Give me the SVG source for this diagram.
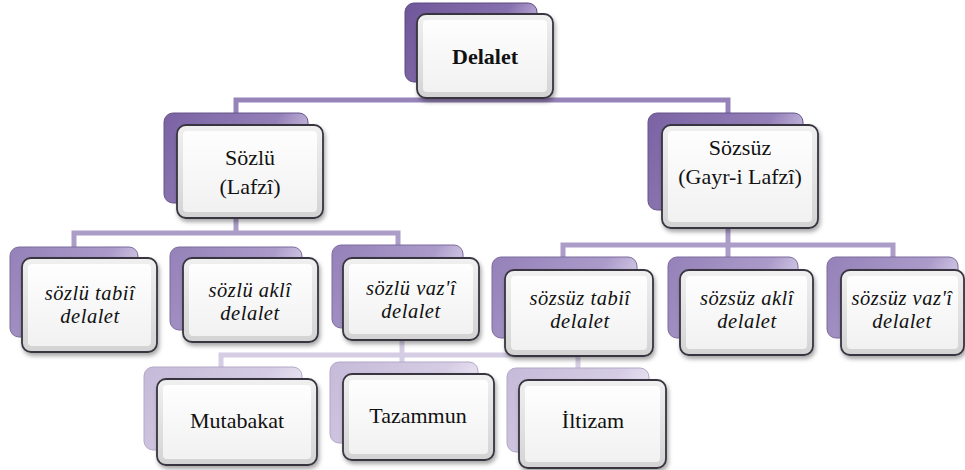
<svg xmlns="http://www.w3.org/2000/svg" width="965" height="470" viewBox="0 0 965 470">
<style>
.t{font-family:"Liberation Serif","Times New Roman",serif;font-size:22px;fill:#111;text-anchor:middle}
.i{font-style:italic;font-size:20.5px;letter-spacing:0.5px}
.b{font-weight:bold}
.front{fill:url(#edge);stroke:#38343f;stroke-width:1.8}
.face{fill:url(#face)}
.back0{fill:url(#bk0);stroke:#5d4b80;stroke-width:1}
.back1{fill:url(#bk1);stroke:#66548a;stroke-width:1}
.back2{fill:url(#bk2);stroke:#7d6c9d;stroke-width:1}
.back3{fill:url(#bk3);stroke:#b3a8c8;stroke-width:1}
.c1{fill:none;stroke:#9683b9;stroke-width:5}
.c2{fill:none;stroke:#ab9cc8;stroke-width:5}
.c3{fill:none;stroke:#d5cde3;stroke-width:5}
</style>
<defs>
<linearGradient id="edge" x1="0" y1="0" x2="0" y2="1">
<stop offset="0" stop-color="#f0f0f0"/><stop offset="1" stop-color="#d3d3d3"/>
</linearGradient>
<linearGradient id="face" x1="0" y1="0" x2="0" y2="1">
<stop offset="0" stop-color="#fefefe"/><stop offset="1" stop-color="#f1f1f1"/>
</linearGradient>
<linearGradient id="bk0" x1="0" y1="0" x2="1" y2="0.4">
<stop offset="0" stop-color="#6f5699"/><stop offset="0.7" stop-color="#8770ae"/><stop offset="1" stop-color="#c9bce0"/>
</linearGradient>
<linearGradient id="bk1" x1="0" y1="0" x2="1" y2="0.4">
<stop offset="0" stop-color="#7a62a3"/><stop offset="0.7" stop-color="#9480b8"/><stop offset="1" stop-color="#d3c8e6"/>
</linearGradient>
<linearGradient id="bk2" x1="0" y1="0" x2="1" y2="0.4">
<stop offset="0" stop-color="#9481b8"/><stop offset="0.7" stop-color="#ab9bca"/><stop offset="1" stop-color="#ddd4ec"/>
</linearGradient>
<linearGradient id="bk3" x1="0" y1="0" x2="1" y2="0.4">
<stop offset="0" stop-color="#c5bad8"/><stop offset="0.7" stop-color="#d5cce4"/><stop offset="1" stop-color="#eee9f5"/>
</linearGradient>
<filter id="sh" x="-10%" y="-10%" width="125%" height="130%">
<feDropShadow dx="1.5" dy="3" stdDeviation="2" flood-color="#000" flood-opacity="0.35"/>
</filter>
</defs>

<g id="connectors">
<path class="c1" d="M471 82V100M236 113V100H728V113"/>
<path class="c2" d="M236 203V233M74 247V233H398V245"/>
<path class="c2" d="M728 210V245M563 257V245H893V257M728 245V257"/>
<path class="c3" d="M402 340V355M221 367V355H578V368M402 355V362"/>
</g>

<g id="n-delalet">
<rect class="back0" x="405" y="3" width="132" height="79" rx="9"/>
<rect class="front" x="417" y="14" width="136" height="84" rx="9" filter="url(#sh)"/>
<rect class="face" x="423" y="20" width="124" height="72" rx="4"/>
<text class="t b" x="485" y="64">Delalet</text>
</g>

<g id="n-sozlu">
<rect class="back1" x="164" y="113" width="144" height="90" rx="9"/>
<rect class="front" x="177" y="125" width="146" height="93" rx="9" filter="url(#sh)"/>
<rect class="face" x="183" y="131" width="134" height="81" rx="4"/>
<text class="t" x="250" y="165">Sözlü</text>
<text class="t" x="250" y="194">(Lafzî)</text>
</g>

<g id="n-sozsuz">
<rect class="back1" x="648" y="113" width="155" height="97" rx="9"/>
<rect class="front" x="662" y="125" width="156" height="103" rx="9" filter="url(#sh)"/>
<rect class="face" x="668" y="131" width="144" height="91" rx="4"/>
<text class="t" x="740" y="155">Sözsüz</text>
<text class="t" x="740" y="184">(Gayr-i Lafzî)</text>
</g>

<g id="n-sozlu-tabii">
<rect class="back2" x="10" y="247" width="128" height="90" rx="9"/>
<rect class="front" x="22" y="258" width="135" height="94" rx="9" filter="url(#sh)"/>
<rect class="face" x="28" y="264" width="123" height="82" rx="4"/>
<text class="t i" x="90" y="300">sözlü tabiî</text>
<text class="t i" x="90" y="323">delalet</text>
</g>

<g id="n-sozlu-akli">
<rect class="back2" x="170" y="247" width="132" height="83" rx="9"/>
<rect class="front" x="183" y="258" width="135" height="84" rx="9" filter="url(#sh)"/>
<rect class="face" x="189" y="264" width="123" height="72" rx="4"/>
<text class="t i" x="250" y="297">sözlü aklî</text>
<text class="t i" x="250" y="320">delalet</text>
</g>

<g id="n-sozlu-vazi">
<rect class="back2" x="332" y="245" width="131" height="83" rx="9"/>
<rect class="front" x="343" y="258" width="136" height="82" rx="9" filter="url(#sh)"/>
<rect class="face" x="349" y="264" width="124" height="70" rx="4"/>
<text class="t i" x="411" y="295">sözlü vaz'î</text>
<text class="t i" x="411" y="318">delalet</text>
</g>

<g id="n-sozsuz-tabii">
<rect class="back2" x="492" y="257" width="145" height="81" rx="9"/>
<rect class="front" x="505" y="270" width="148" height="86" rx="9" filter="url(#sh)"/>
<rect class="face" x="511" y="276" width="136" height="74" rx="4"/>
<text class="t i" x="580" y="305">sözsüz tabiî</text>
<text class="t i" x="580" y="328">delalet</text>
</g>

<g id="n-sozsuz-akli">
<rect class="back2" x="668" y="257" width="130" height="81" rx="9"/>
<rect class="front" x="680" y="270" width="133" height="85" rx="9" filter="url(#sh)"/>
<rect class="face" x="686" y="276" width="121" height="73" rx="4"/>
<text class="t i" x="747" y="305">sözsüz aklî</text>
<text class="t i" x="747" y="328">delalet</text>
</g>

<g id="n-sozsuz-vazi">
<rect class="back2" x="827" y="257" width="131" height="81" rx="9"/>
<rect class="front" x="841" y="270" width="123" height="85" rx="9" filter="url(#sh)"/>
<rect class="face" x="847" y="276" width="111" height="73" rx="4"/>
<text class="t i" x="902" y="305">sözsüz vaz'î</text>
<text class="t i" x="902" y="328">delalet</text>
</g>

<g id="n-mutabakat">
<rect class="back3" x="144" y="367" width="158" height="83" rx="9"/>
<rect class="front" x="157" y="379" width="160" height="86" rx="9" filter="url(#sh)"/>
<rect class="face" x="163" y="385" width="148" height="74" rx="4"/>
<text class="t" x="237" y="428">Mutabakat</text>
</g>

<g id="n-tazammun">
<rect class="back3" x="330" y="362" width="148" height="81" rx="9"/>
<rect class="front" x="343" y="374" width="151" height="86" rx="9" filter="url(#sh)"/>
<rect class="face" x="349" y="380" width="139" height="74" rx="4"/>
<text class="t" x="418" y="423">Tazammun</text>
</g>

<g id="n-iltizam">
<rect class="back3" x="507" y="368" width="142" height="84" rx="9"/>
<rect class="front" x="519" y="380" width="147" height="88" rx="9" filter="url(#sh)"/>
<rect class="face" x="525" y="386" width="135" height="76" rx="4"/>
<text class="t" x="593" y="428">İltizam</text>
</g>
</svg>
